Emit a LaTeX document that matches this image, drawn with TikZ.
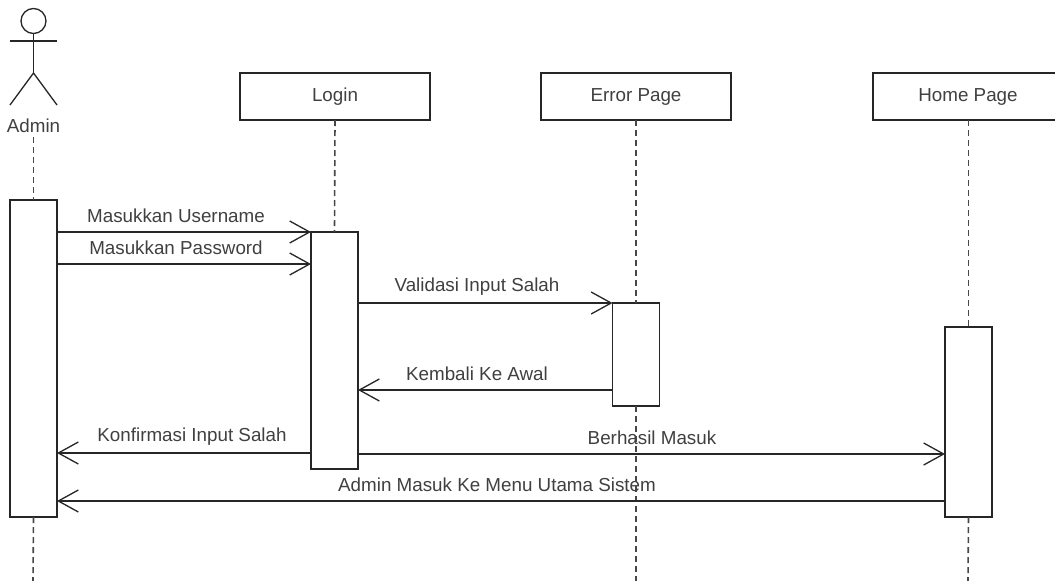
\documentclass[tikz,border=0pt]{standalone}
\usepackage{fontspec}
\setmainfont{Liberation Sans}
\usetikzlibrary{arrows.meta}
\definecolor{ink}{HTML}{262626}
\definecolor{lbl}{HTML}{404040}
\tikzset{
  x=1pt,y=-1pt,
  every node/.style={inner sep=0pt,outer sep=0pt,font=\fontsize{18.8}{22}\selectfont,text=lbl},
  headbox/.style={draw=ink,line width=1.3pt,fill=white,minimum width=190,minimum height=47,anchor=north west},
  actbox/.style={draw=ink,line width=1.3pt,fill=white,minimum width=47,anchor=north west},
  lifeline/.style={draw=ink!85,line width=1.6pt,dash pattern=on 6pt off 4pt},
  msg/.style={draw=ink,line width=1.3pt,-{Straight Barb[length=20pt,width=22pt,line width=1.3pt]}},
  actorline/.style={draw=ink,line width=1.3pt}
}
\begin{document}
\begin{tikzpicture}
\useasboundingbox (0,0) rectangle (1055,581);
\clip (0,0) rectangle (1055,581);
\fill[white] (0,0) rectangle (1055,581);
% head boxes
\node[headbox] (hLogin) at (240,73) {Login};
\node[headbox] (hError) at (541,73) {Error Page};
\node[headbox] (hHome) at (873,73) {};
\node (tHome) at (968,96.5) {Home Page};
% actor
\node[draw=ink,line width=1.3pt,circle,minimum size=25,fill=white] (head) at (33.5,21) {};
\coordinate (hip) at (33.5,73);
\coordinate (armL) at (10,41);
\coordinate (armR) at (57,41);
\coordinate (legL) at (10,105);
\coordinate (legR) at (57,105);
\draw[actorline] (head.south) -- (hip);
\draw[actorline] (armL) -- (armR);
\draw[actorline] (legL) -- (hip) -- (legR);
\node (tAdmin) at (33.5,126) {Admin};
% activation boxes
\node[actbox,minimum height=317] (aAdmin) at (10,200) {};
\node[actbox,minimum height=237] (aLogin) at (311,232) {};
\node[actbox,minimum height=103] (aError) at (612.5,303) {};
\node[actbox,minimum height=190] (aHome) at (945,327) {};
% end points of lifelines
\coordinate (eAdmin) at (33,581);
\coordinate (eError) at (636,581);
\coordinate (eHome) at (968,581);
% lifelines
\draw[lifeline] (aAdmin.north |- 0,137) -- (aAdmin.north);
\draw[lifeline] (aAdmin.south) -- (eAdmin);
\draw[lifeline] (hLogin.south) -- (aLogin.north);
\draw[lifeline] (hError.south) -- (aError.north);
\draw[lifeline] (aError.south) -- (eError);
\draw[lifeline] (aHome.north |- hHome.south) -- (aHome.north);
\draw[lifeline] (aHome.south) -- (eHome);
% messages
\draw[msg] (aAdmin.east |- 0,232) -- (aLogin.west |- 0,232);
\node at (176,216) {Masukkan Username};
\draw[msg] (aAdmin.east |- 0,264) -- (aLogin.west |- 0,264);
\node at (176,248) {Masukkan Password};
\draw[msg] (aLogin.east |- 0,303) -- (aError.west |- 0,303);
\node at (477,287) {Validasi Input Salah};
\draw[msg] (aError.west |- 0,390) -- (aLogin.east |- 0,390);
\node at (477,374) {Kembali Ke Awal};
\draw[msg] (aLogin.west |- 0,453) -- (aAdmin.east |- 0,453);
\node at (192,437) {Konfirmasi Input Salah};
\draw[msg] (aLogin.east |- 0,454) -- (aHome.west |- 0,454);
\node at (652,438) {Berhasil Masuk};
\draw[msg] (aHome.west |- 0,501) -- (aAdmin.east |- 0,501);
\node at (497,485) {Admin Masuk Ke Menu Utama Sistem};
\end{tikzpicture}
\end{document}
